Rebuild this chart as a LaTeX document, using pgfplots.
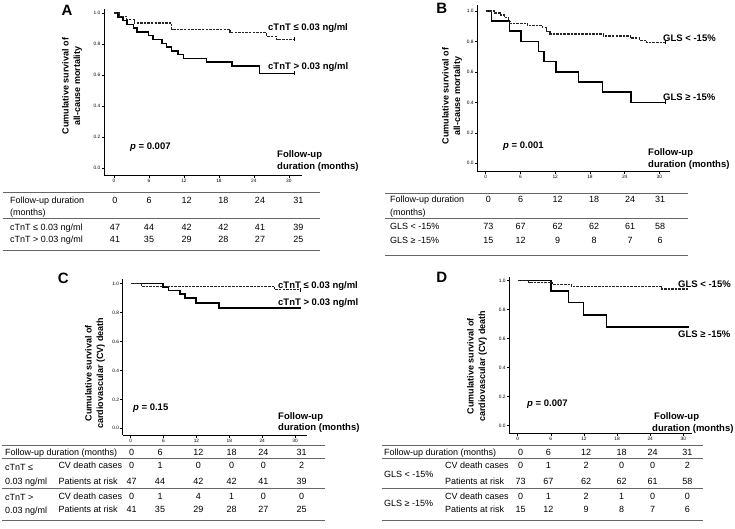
\documentclass[border=0pt]{standalone}
\usepackage{fontspec}
\setmainfont{Liberation Sans}
\usepackage{pgfplots}
\pgfplotsset{compat=1.18}
\pgfplotsset{
  km/.style={
    scale only axis, anchor=south west,
    axis x line=bottom, axis y line=left,
    axis line style={-, line width=0.8pt, black},
    every outer x axis line/.append style={-},
    every outer y axis line/.append style={-},
    tick align=outside, major tick length=2.5pt,
    tick style={line width=0.6pt, black},
    xtick={0,6,12,18,24,30}, ytick={0,0.2,0.4,0.6,0.8,1.0},
    yticklabel style={/pgf/number format/fixed, /pgf/number format/fixed zerofill, /pgf/number format/precision=1},
    tick label style={font=\fontsize{4.8}{5}\selectfont, inner sep=1pt},
    /pgf/number format/assume math mode=true,
    clip=false,
  },
  skm/.style={const plot, black, line width=1.5pt, mark=none},
  dkm/.style={const plot, black!85, line width=1.2pt, dash pattern=on 2.5pt off 1.1pt, mark=none},
  cens/.style={only marks, mark=|, mark size=2pt, black, line width=0.8pt},
}
\tikzset{
  lab/.style={anchor=west, inner sep=0pt, font=\fontsize{9.5}{11}\selectfont\bfseries, text height=0.72em, text depth=0pt},
  tab/.style={anchor=west, inner sep=0pt, font=\fontsize{9}{10}\selectfont, text height=0.72em, text depth=0pt},
  num/.style={anchor=center, inner sep=0pt, font=\fontsize{9}{10}\selectfont, text height=0.72em, text depth=0pt},
  rule/.style={line width=0.8pt, black!60},
  ylab/.style={rotate=90, align=center, font=\fontsize{9}{11.5}\selectfont\bfseries, inner sep=0pt},
  panel/.style={font=\fontsize{15}{15}\selectfont\bfseries, inner sep=0pt},
}
\newcommand\nums[2]{\foreach \x/\v in {#2} {\node[num] at (\x pt,-#1pt) {\v};}}
\begin{document}
\begin{tikzpicture}
\useasboundingbox (0,0) rectangle (735pt,-528pt);

% ---------------- Panel A ----------------
\begin{axis}[km, at={(104pt,-175pt)}, width=198pt, height=166pt,
  xmin=-1.72, xmax=32.25, ymin=-0.045, ymax=1.026]
\addplot[skm] coordinates {(0,1)(0.7,0.976)(1.5,0.951)(2.2,0.927)(3.3,0.902)(3.9,0.878)(5.9,0.854)(6.7,0.829)(8.2,0.805)(9.0,0.780)(9.9,0.756)(11.0,0.732)(11.9,0.707)(15.9,0.683)(20.2,0.659)(25.0,0.610)(31,0.610)};
\addplot[dkm] coordinates {(0,1)(1.0,0.979)(2.2,0.957)(3.5,0.936)(9.9,0.894)(19.9,0.872)(26.2,0.851)(27.9,0.830)(31,0.830)};
\addplot[cens] coordinates {(31,0.610)(31,0.830)};
\end{axis}
\node[panel] at (67pt,-10pt) {A};
\node[ylab] at (72pt,-86pt) {Cumulative survival of\\all-cause mortality};
\node[lab] at (268pt,-27pt) {cTnT ≤ 0.03 ng/ml};
\node[lab] at (268pt,-66pt) {cTnT > 0.03 ng/ml};
\node[lab] at (130pt,-146pt) {\textit{p} = 0.007};
\node[lab] at (277pt,-154pt) {Follow-up};
\node[lab] at (277pt,-166pt) {duration (months)};
% table A
\draw[rule] (3pt,-192pt) -- (320pt,-192pt);
\draw[rule] (3pt,-218.3pt) -- (320pt,-218.3pt);
\draw[rule] (3pt,-250pt) -- (320pt,-250pt);
\node[tab] at (10pt,-200pt) {Follow-up duration};
\node[tab] at (10pt,-211.5pt) {(months)};
\node[tab] at (10pt,-226.7pt) {cTnT ≤ 0.03 ng/ml};
\node[tab] at (10pt,-239.3pt) {cTnT > 0.03 ng/ml};
\nums{200}{115/0,149/6,186.7/12,223.3/18,260/24,298.3/31}
\nums{226.7}{115/47,149/44,186.7/42,223.3/42,260/41,298.3/39}
\nums{239.3}{115/41,149/35,186.7/29,223.3/28,260/27,298.3/25}

% ---------------- Panel B ----------------
\begin{axis}[km, at={(477.3pt,-171.7pt)}, width=192.7pt, height=166.7pt,
  xmin=-1.45, xmax=31.83, ymin=-0.055, ymax=1.039]
\addplot[skm] coordinates {(0,1)(1.0,0.933)(4.1,0.867)(6.1,0.800)(9.1,0.733)(10.1,0.667)(12.1,0.600)(16.0,0.533)(20.2,0.467)(25.1,0.400)(31,0.400)};
\addplot[dkm] coordinates {(0,1)(1.5,0.986)(2.5,0.973)(3.2,0.959)(3.9,0.932)(4.2,0.918)(7.2,0.904)(9.8,0.890)(10.5,0.863)(11.1,0.849)(20.3,0.836)(25.0,0.822)(26.5,0.808)(27.8,0.795)(31,0.795)};
\addplot[cens] coordinates {(31,0.400)(31,0.795)};
\end{axis}
\node[panel] at (441.7pt,-8pt) {B};
\node[ylab] at (452pt,-96pt) {Cumulative survival of\\all-cause mortality};
\node[lab] at (663pt,-37.5pt) {GLS < -15\%};
\node[lab] at (663pt,-97pt) {GLS ≥ -15\%};
\node[lab] at (503pt,-145pt) {\textit{p} = 0.001};
\node[lab] at (648pt,-152pt) {Follow-up};
\node[lab] at (648pt,-164pt) {duration (months)};
% table B
\draw[rule] (385pt,-193.3pt) -- (688pt,-193.3pt);
\draw[rule] (385pt,-218.3pt) -- (688pt,-218.3pt);
\draw[rule] (385pt,-255pt) -- (688pt,-255pt);
\node[tab] at (390pt,-199.3pt) {Follow-up duration};
\node[tab] at (390pt,-211.7pt) {(months)};
\node[tab] at (390pt,-226.3pt) {GLS < -15\%};
\node[tab] at (390pt,-240pt) {GLS ≥ -15\%};
\nums{199.3}{488.3/0,520.7/6,557.7/12,594/18,630/24,660/31}
\nums{226.3}{488.3/73,520.7/67,557.7/62,594/62,630/61,660/58}
\nums{240}{488.3/15,520.7/12,557.7/9,594/8,630/7,660/6}

% ---------------- Panel C ----------------
\begin{axis}[km, at={(122.7pt,-435pt)}, width=184pt, height=155.7pt,
  xmin=-1.46, xmax=32.12, ymin=-0.046, ymax=1.028]
\addplot[skm] coordinates {(0,1)(5.9,0.976)(6.9,0.951)(9.0,0.925)(9.9,0.898)(11.9,0.863)(16.1,0.830)(31,0.830)};
\addplot[dkm] coordinates {(0,1)(2.0,0.979)(26.3,0.955)(31,0.955)};
\addplot[cens] coordinates {(31,0.955)};
\end{axis}
\node[panel] at (63.3pt,-278.3pt) {C};
\node[ylab] at (95pt,-373pt) {Cumulative survival of\\cardiovascular (CV) death};
\node[lab] at (278pt,-285pt) {cTnT ≤ 0.03 ng/ml};
\node[lab] at (278pt,-302.3pt) {cTnT > 0.03 ng/ml};
\node[lab] at (133pt,-406.5pt) {\textit{p} = 0.15};
\node[lab] at (278pt,-416pt) {Follow-up};
\node[lab] at (278pt,-427pt) {duration (months)};
% table C
\draw[rule] (2pt,-445.7pt) -- (325pt,-445.7pt);
\draw[rule] (2pt,-458.3pt) -- (325pt,-458.3pt);
\draw[rule] (2pt,-488.3pt) -- (325pt,-488.3pt);
\draw[rule] (2pt,-520pt) -- (325pt,-520pt);
\node[tab] at (5pt,-452.3pt) {Follow-up duration (months)};
\node[tab] at (5pt,-466.7pt) {cTnT ≤};
\node[tab] at (5pt,-481pt) {0.03 ng/ml};
\node[tab] at (5pt,-496.7pt) {cTnT >};
\node[tab] at (5pt,-510pt) {0.03 ng/ml};
\node[tab] at (58.3pt,-465pt) {CV death cases};
\node[tab] at (58.3pt,-481pt) {Patients at risk};
\node[tab] at (58.3pt,-496pt) {CV death cases};
\node[tab] at (58.3pt,-509.3pt) {Patients at risk};
\nums{452.3}{131.7/0,160/6,198.3/12,231.7/18,263.3/24,301.7/31}
\nums{465}{131.7/0,160/1,198.3/0,231.7/0,263.3/0,301.7/2}
\nums{481}{131.7/47,160/44,198.3/42,231.7/42,263.3/41,301.7/39}
\nums{496}{131.7/0,160/1,198.3/4,231.7/1,263.3/0,301.7/0}
\nums{509.3}{131.7/41,160/35,198.3/29,231.7/28,263.3/27,301.7/25}

% ---------------- Panel D ----------------
\begin{axis}[km, at={(509.3pt,-433.3pt)}, width=182.4pt, height=156pt,
  xmin=-1.52, xmax=31.52, ymin=-0.052, ymax=1.023]
\addplot[skm] coordinates {(0,1)(6.0,0.929)(9.2,0.851)(11.9,0.763)(16.1,0.681)(31,0.681)};
\addplot[dkm] coordinates {(0,1)(2.0,0.986)(6.3,0.972)(9.8,0.958)(26.0,0.942)(31,0.942)};
\end{axis}
\node[panel] at (441.7pt,-277.3pt) {D};
\node[ylab] at (477pt,-366pt) {Cumulative survival of\\cardiovascular (CV) death};
\node[lab] at (678pt,-284pt) {GLS < -15\%};
\node[lab] at (678pt,-333.5pt) {GLS ≥ -15\%};
\node[lab] at (527pt,-403pt) {\textit{p} = 0.007};
\node[lab] at (654pt,-416pt) {Follow-up};
\node[lab] at (652pt,-427.5pt) {duration (months)};
% table D
\draw[rule] (381.7pt,-445.7pt) -- (703.3pt,-445.7pt);
\draw[rule] (381.7pt,-458.3pt) -- (703.3pt,-458.3pt);
\draw[rule] (381.7pt,-488.3pt) -- (703.3pt,-488.3pt);
\draw[rule] (381.7pt,-520pt) -- (703.3pt,-520pt);
\node[tab] at (384pt,-452.3pt) {Follow-up duration (months)};
\node[tab] at (384pt,-474.3pt) {GLS < -15\%};
\node[tab] at (384pt,-503.3pt) {GLS ≥ -15\%};
\node[tab] at (445pt,-465pt) {CV death cases};
\node[tab] at (445pt,-481pt) {Patients at risk};
\node[tab] at (445pt,-496pt) {CV death cases};
\node[tab] at (445pt,-509.3pt) {Patients at risk};
\nums{452.3}{520.7/0,548.3/6,586/12,621.7/18,652.7/24,687.3/31}
\nums{465}{520.7/0,548.3/1,586/2,621.7/0,652.7/0,687.3/2}
\nums{481}{520.7/73,548.3/67,586/62,621.7/62,652.7/61,687.3/58}
\nums{496}{520.7/0,548.3/1,586/2,621.7/1,652.7/0,687.3/0}
\nums{509.3}{520.7/15,548.3/12,586/9,621.7/8,652.7/7,687.3/6}
\end{tikzpicture}
\end{document}
